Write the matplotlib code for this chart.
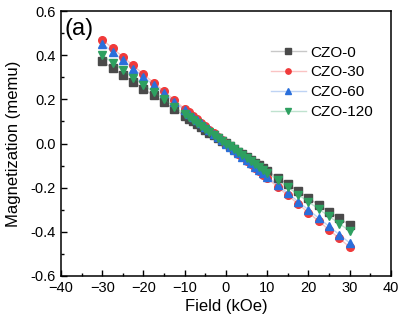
import matplotlib
matplotlib.use("Agg")
import matplotlib.pyplot as plt
from matplotlib.ticker import MultipleLocator, FormatStrFormatter
from matplotlib.colors import to_rgba

plt.rcParams['font.family'] = ['Liberation Sans', 'DejaVu Sans']

field = [-30, -27.5, -25, -22.5, -20, -17.5, -15, -12.5, -10, -9, -8, -7, -6, -5, -4,
         -3, -2, -1, 0, 1, 2, 3, 4, 5, 6, 7, 8, 9, 10, 12.5, 15, 17.5, 20, 22.5, 25, 27.5, 30]

czo_0 = [0.372, 0.342, 0.310, 0.280, 0.248, 0.218, 0.186, 0.156, 0.125, 0.112, 0.100, 0.087,
         0.075, 0.062, 0.050, 0.037, 0.025, 0.012, 0.001, -0.012, -0.024, -0.037, -0.049,
         -0.062, -0.074, -0.087, -0.099, -0.111, -0.124, -0.154, -0.185, -0.216, -0.247,
         -0.278, -0.309, -0.339, -0.369]
czo_30 = [0.471, 0.432, 0.393, 0.354, 0.314, 0.275, 0.236, 0.197, 0.157, 0.142, 0.126, 0.110,
          0.094, 0.079, 0.063, 0.047, 0.031, 0.016, 0.000, -0.016, -0.031, -0.047, -0.063,
          -0.078, -0.094, -0.110, -0.125, -0.141, -0.157, -0.196, -0.235, -0.274, -0.313,
          -0.352, -0.391, -0.430, -0.469]
czo_60 = [0.453, 0.415, 0.378, 0.340, 0.302, 0.264, 0.227, 0.189, 0.151, 0.136, 0.121, 0.106,
          0.091, 0.076, 0.060, 0.045, 0.030, 0.015, 0.000, -0.015, -0.030, -0.045, -0.060,
          -0.075, -0.090, -0.105, -0.120, -0.135, -0.150, -0.188, -0.225, -0.263, -0.300,
          -0.338, -0.375, -0.413, -0.450]
czo_120 = [0.399, 0.366, 0.333, 0.299, 0.266, 0.233, 0.200, 0.166, 0.133, 0.120, 0.106, 0.093,
           0.080, 0.067, 0.053, 0.040, 0.027, 0.013, 0.000, -0.013, -0.026, -0.040, -0.053,
           -0.066, -0.079, -0.092, -0.106, -0.119, -0.132, -0.165, -0.198, -0.231, -0.264,
           -0.297, -0.330, -0.363, -0.396]

series = [("CZO-0", czo_0, "s", "#4a4a4a"),
          ("CZO-30", czo_30, "o", "#f03a3a"),
          ("CZO-60", czo_60, "^", "#2a6fdb"),
          ("CZO-120", czo_120, "v", "#2ea060")]

fig = plt.figure(figsize=(4.01, 3.27), dpi=100)
ax = fig.add_axes([0.152, 0.156, 0.823, 0.810])

for label, vals, mk, col in series:
    ax.plot(field, vals, color=to_rgba(col, 0.3), linewidth=1.0,
            marker=mk, markersize=5.5, markerfacecolor=col, markeredgecolor=col,
            label=label)

ax.legend(loc='upper left', bbox_to_anchor=(0.635, 0.87), frameon=False,
          fontsize=11, handlelength=2.3, labelspacing=0.38, handletextpad=0.3,
          borderpad=0, borderaxespad=0, markerscale=0.7)

ax.set_xlim(-40, 40)
ax.set_ylim(-0.6, 0.6)
ax.xaxis.set_major_locator(MultipleLocator(10))
ax.xaxis.set_minor_locator(MultipleLocator(5))
ax.yaxis.set_major_locator(MultipleLocator(0.2))
ax.yaxis.set_minor_locator(MultipleLocator(0.1))
ax.yaxis.set_major_formatter(FormatStrFormatter('%.1f'))
ax.tick_params(which='both', direction='in', top=False, right=False, labelsize=10.5)
ax.tick_params(which='major', length=4, width=1)
ax.tick_params(which='minor', length=2, width=1)
for s in ax.spines.values():
    s.set_linewidth(1.1)

ax.set_xlabel("Field (kOe)", fontsize=12, labelpad=3)
ax.set_ylabel("Magnetization (memu)", fontsize=12, labelpad=7)
ax.text(0.012, 0.975, "(a)", transform=ax.transAxes, fontsize=17, va='top', ha='left')

fig.savefig("out.png", dpi=100)
